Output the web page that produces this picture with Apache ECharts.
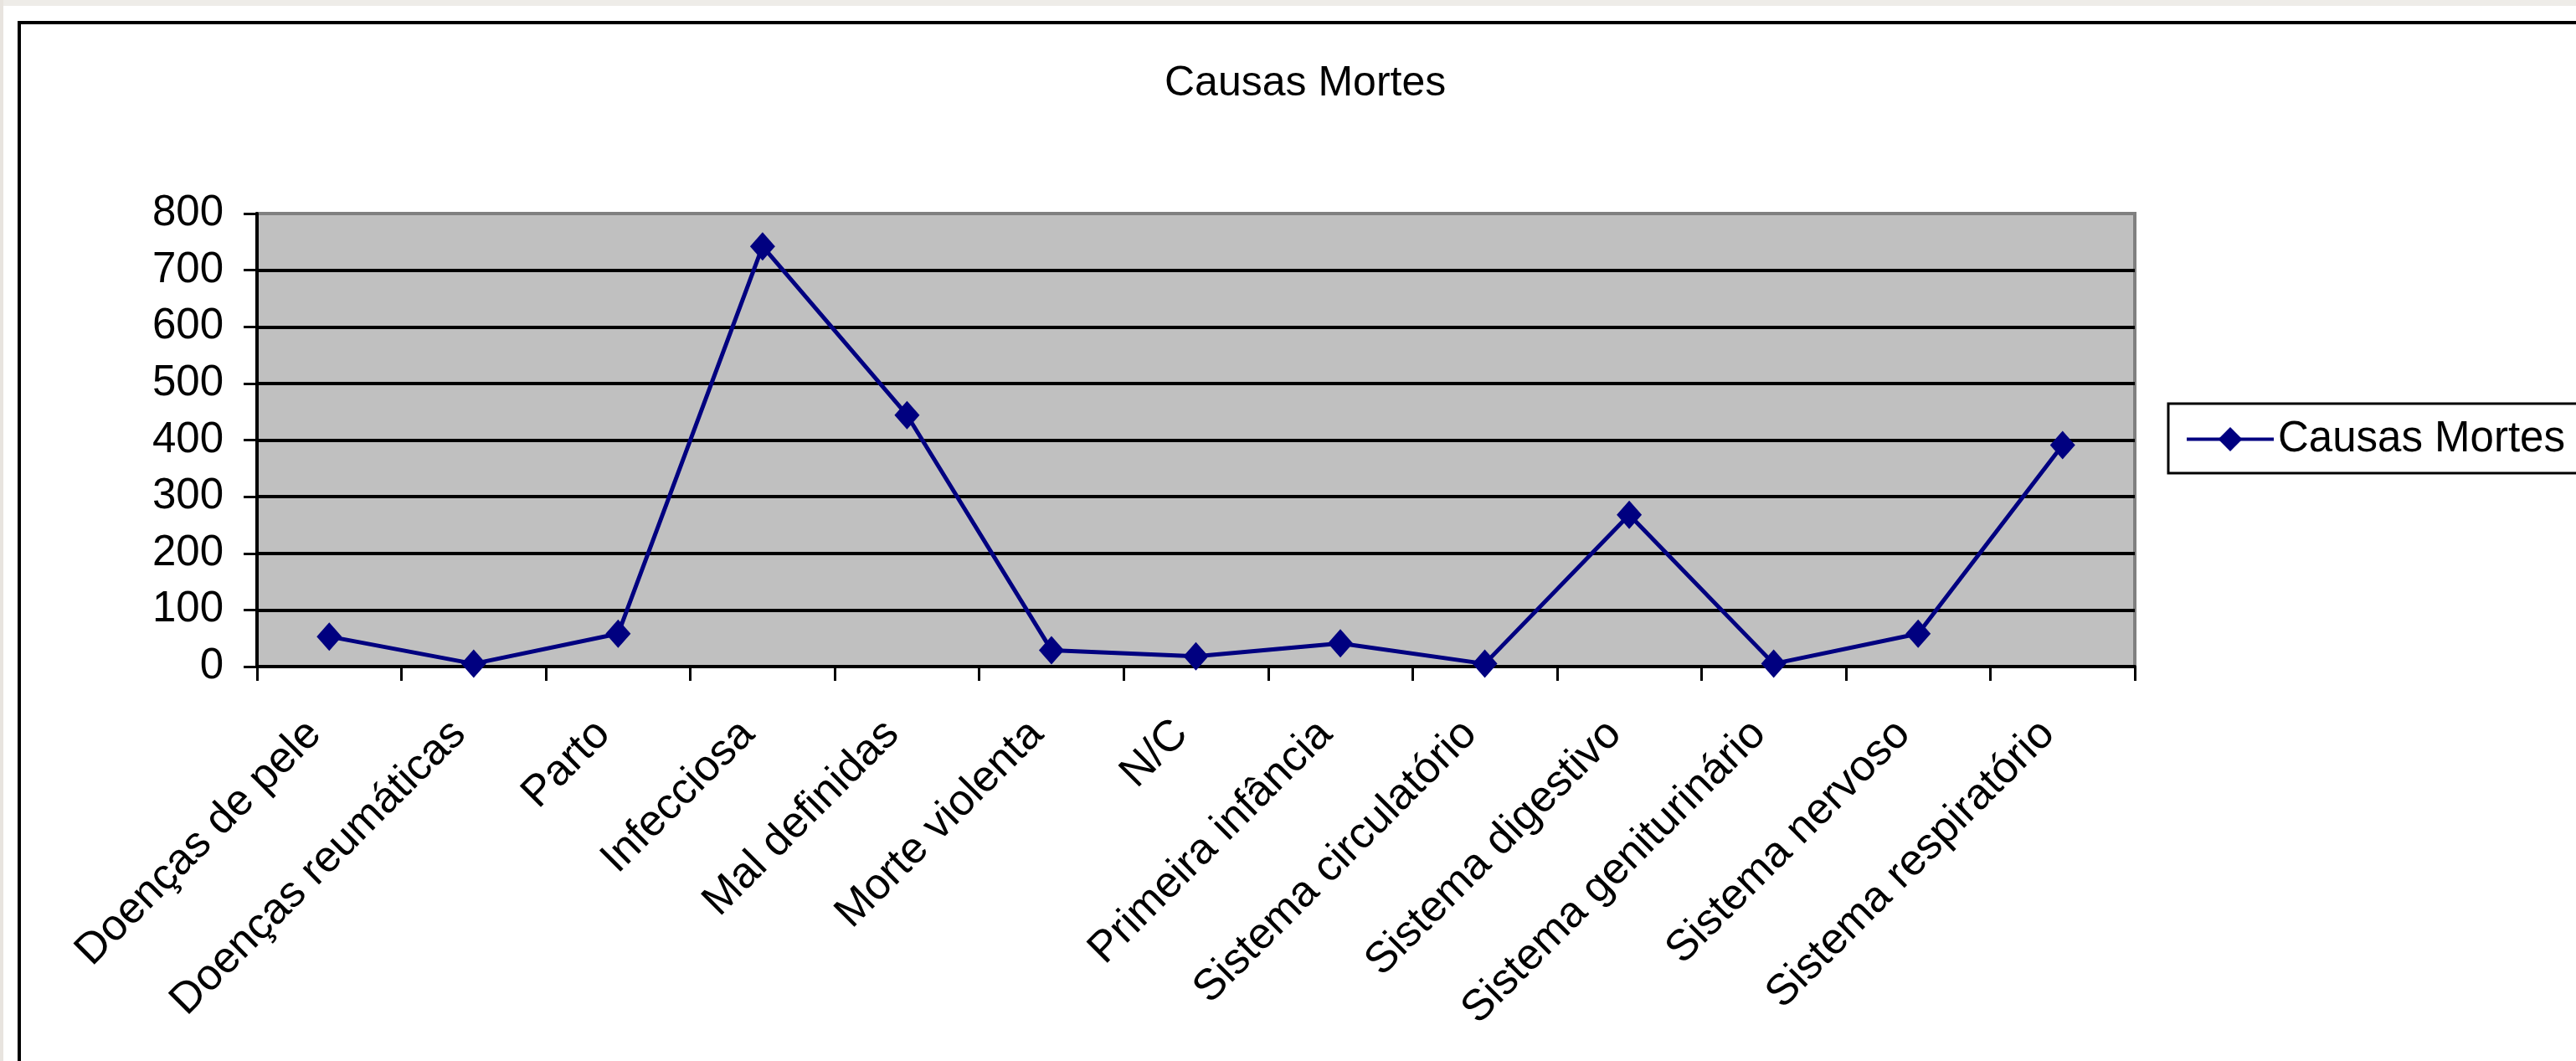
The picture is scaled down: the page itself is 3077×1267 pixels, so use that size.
<!DOCTYPE html>
<html>
<head>
<meta charset="utf-8">
<title>Causas Mortes</title>
<script src="https://cdn.jsdelivr.net/npm/echarts@6/dist/echarts.min.js"></script>
<style>
  html, body { margin: 0; padding: 0; background: #fff; }
  #chart { width: 3077px; height: 1267px; }
</style>
</head>
<body>
<div id="chart"></div>
<script>
// dados
const categorias = [
  'Doenças de pele', 'Doenças reumáticas', 'Parto', 'Infecciosa', 'Mal definidas',
  'Morte violenta', 'N/C', 'Primeira infância', 'Sistema circulatório',
  'Sistema digestivo', 'Sistema geniturinário', 'Sistema nervoso', 'Sistema respiratório'
]
const causasMortes = [53, 5, 58, 742, 444, 29, 18, 41, 5, 268, 5, 58, 391]
const eixoY = { min: 0, max: 800, interval: 100 }

const fonte = "'Liberation Sans', Arial, sans-serif"

const chart = echarts.init(document.getElementById('chart'))

// a linha do topo (800) fica cinza como a borda da área do gráfico
const coresGrade = []
for (let v = eixoY.min; v <= eixoY.max; v += eixoY.interval) {
  coresGrade.push(v === eixoY.max ? '#808080' : '#000000')
}

const option = {
  backgroundColor: '#ffffff',
  animation: false,
  title: {
    text: 'Causas Mortes',
    left: 1386,
    top: 70,
    textStyle: { fontFamily: fonte, fontSize: 50, fontWeight: 'normal', color: '#000' }
  },
  legend: {
    left: 2590,
    top: 482,
    padding: [17, 60, 15, 20],
    itemWidth: 104,
    itemHeight: 36,
    itemGap: 10,
    borderColor: '#000',
    borderWidth: 3,
    lineStyle: { width: 4, color: '#000080' },
    itemStyle: { color: '#000080' },
    textStyle: { fontFamily: fonte, fontSize: 51, color: '#000' }
  },
  grid: {
    left: 307,
    top: 255,
    width: 2243,
    height: 541,
    show: true,
    backgroundColor: '#c0c0c0',
    borderColor: '#808080',
    borderWidth: 4
  },
  xAxis: {
    type: 'category',
    data: categorias,
    boundaryGap: true,
    axisLine: { lineStyle: { color: '#000', width: 4 } },
    axisTick: { show: true, interval: 0, length: 17, lineStyle: { color: '#000', width: 3 } },
    axisLabel: {
      interval: 0,
      rotate: 45,
      margin: 55,
      padding: [0, 25, 0, 0],
      fontFamily: fonte,
      fontSize: 52,
      color: '#000'
    },
    splitLine: { show: false }
  },
  yAxis: {
    type: 'value',
    min: eixoY.min,
    max: eixoY.max,
    interval: eixoY.interval,
    axisLine: { show: true, lineStyle: { color: '#000', width: 4 } },
    axisTick: { show: true, length: 16, lineStyle: { color: '#000', width: 3 } },
    axisLabel: { margin: 40, fontFamily: fonte, fontSize: 51, color: '#000' },
    splitLine: { show: true, lineStyle: { color: coresGrade, width: 4 } }
  },
  series: [{
    name: 'Causas Mortes',
    type: 'line',
    data: causasMortes,
    symbol: 'diamond',
    symbolSize: [30, 34],
    lineStyle: { color: '#000080', width: 5 },
    itemStyle: { color: '#000080' }
  }],
  graphic: [
    { type: 'rect', z: -10, shape: { x: 0, y: 0, width: 3077, height: 7 }, style: { fill: '#eeece8' } },
    { type: 'rect', z: -10, shape: { x: 0, y: 0, width: 4, height: 1267 }, style: { fill: '#e8e4df' } },
    {
      type: 'rect',
      z: 100,
      shape: { x: 23, y: 27, width: 3200, height: 1400 },
      style: { fill: 'none', stroke: '#000', lineWidth: 4 }
    }
  ]
}

chart.setOption(option)
</script>
</body>
</html>
